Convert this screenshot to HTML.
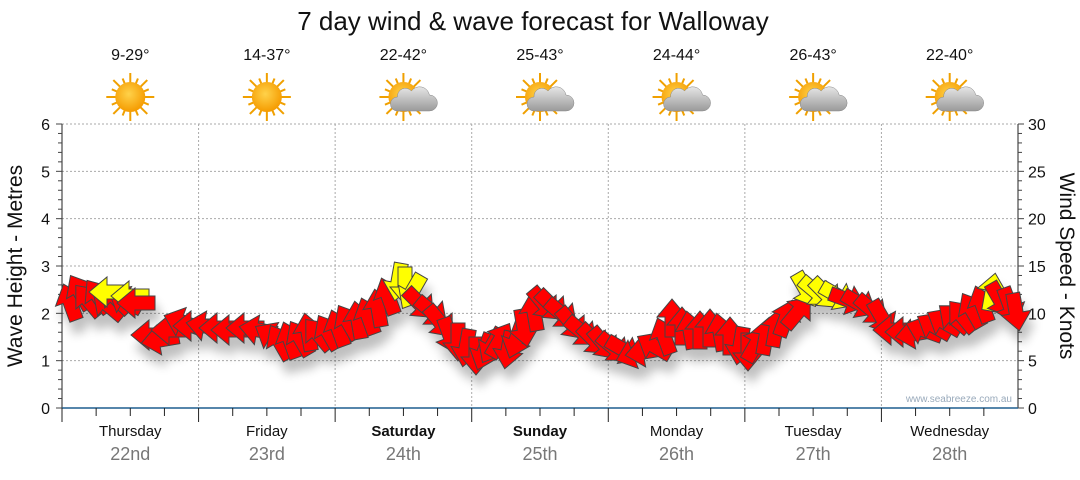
<!DOCTYPE html>
<html><head><meta charset="utf-8"><style>
body{margin:0;background:#fff;width:1080px;height:475px;overflow:hidden;font-family:"Liberation Sans",sans-serif}
</style></head><body>
<svg id="s" width="1080" height="475" xmlns="http://www.w3.org/2000/svg" font-family="Liberation Sans, sans-serif">
<defs>
<filter id="sh" x="-20%" y="-20%" width="140%" height="160%"><feGaussianBlur in="SourceAlpha" stdDeviation="5"/><feOffset dx="4" dy="12"/><feComponentTransfer><feFuncA type="linear" slope="0.25"/></feComponentTransfer><feMerge><feMergeNode/><feMergeNode in="SourceGraphic"/></feMerge></filter>
<radialGradient id="sun" cx="45%" cy="40%" r="60%"><stop offset="0" stop-color="#ffd24a"/><stop offset="1" stop-color="#f59b00"/></radialGradient>
<linearGradient id="cl" x1="0" y1="0" x2="0" y2="1"><stop offset="0" stop-color="#e6e6e6"/><stop offset="1" stop-color="#9a9a9a"/></linearGradient>
</defs>
<text x="533" y="30" font-size="26" text-anchor="middle" fill="#111">7 day wind &amp; wave forecast for Walloway</text>
<g id="grid"></g>
<g id="arrows" filter="url(#sh)"></g>
<text x="1012" y="402" font-size="10" fill="#9ab" text-anchor="end">www.seabreeze.com.au</text>
<text transform="translate(22,266) rotate(-90)" font-size="21" text-anchor="middle" fill="#111">Wave Height - Metres</text>
<text transform="translate(1060,266) rotate(90)" font-size="21" text-anchor="middle" fill="#111">Wind Speed - Knots</text>
</svg>
<script>
var s=document.getElementById('s'),g=document.getElementById('grid'),A=document.getElementById('arrows');
var NS='http://www.w3.org/2000/svg';
function el(t,a,p,txt){var e=document.createElementNS(NS,t);for(var k in a)e.setAttribute(k,a[k]);if(txt!=null)e.textContent=txt;(p||g).appendChild(e);return e;}
var L=62,R=1018,T=124,B=408,dw=136.57;
for(var i=1;i<=6;i++){var y=B-i*47.33;el('line',{x1:L,x2:R,y1:y,y2:y,stroke:'#aaa','stroke-dasharray':'2,2'});}
for(var d=1;d<7;d++){var x=L+d*dw;el('line',{x1:x,x2:x,y1:T,y2:B,stroke:'#aaa','stroke-dasharray':'2,2'});}
el('line',{x1:L,x2:L,y1:T,y2:B,stroke:'#222'});el('line',{x1:R,x2:R,y1:T,y2:B,stroke:'#222'});
el('line',{x1:L,x2:R,y1:B,y2:B,stroke:'#1f5f8f','stroke-width':1.5});
for(var i=0;i<=30;i++){var y=B-i*9.467;var big=i%5==0;el('line',{x1:L-(big?6:4),x2:L,y1:y,y2:y,stroke:'#444'});el('line',{x1:R,x2:R+(big?6:4),y1:y,y2:y,stroke:'#444'});
 if(big){el('text',{x:L-12,y:y+6,'font-size':16,'text-anchor':'end',fill:'#111'},null,i/5);el('text',{x:R+10,y:y+6,'font-size':16,fill:'#111'},null,i);}}
var days=['Thursday','Friday','Saturday','Sunday','Monday','Tuesday','Wednesday'],dates=['22nd','23rd','24th','25th','26th','27th','28th'],temps=['9-29°','14-37°','22-42°','25-43°','24-44°','26-43°','22-40°'];
for(var d=0;d<7;d++){var x0=L+d*dw,cx=x0+dw/2;
 for(var k=0;k<4;k++){var x=x0+k*dw/4;el('line',{x1:x,x2:x,y1:B,y2:B+(k==0?14:8),stroke:'#222'});}
 var bold=(d==2||d==3)?'bold':'normal';
 el('text',{x:cx,y:436,'font-size':15,'text-anchor':'middle','font-weight':bold,fill:'#111'},null,days[d]);
 el('text',{x:cx,y:460,'font-size':18,'text-anchor':'middle',fill:'#777'},null,dates[d]);
 el('text',{x:cx,y:60,'font-size':16,'text-anchor':'middle',fill:'#111'},null,temps[d]);
 var sx=cx,sy=97;
 for(var r=0;r<16;r++){var a=r*Math.PI/8;el('line',{x1:sx+Math.cos(a)*14,y1:sy+Math.sin(a)*14,x2:sx+Math.cos(a)*(r%2?20:24),y2:sy+Math.sin(a)*(r%2?20:24),stroke:'#f0a000','stroke-width':2});}
 el('circle',{cx:sx,cy:sy,r:15,fill:'url(#sun)'});
 if(d>=2){el('path',{d:'M'+(sx-6)+' '+(sy+14)+'h32a8 8 0 0 0 0-16a10 10 0 0 0-18-4a8 8 0 0 0-14 6a7 7 0 0 0 0 14z',fill:'url(#cl)',stroke:'#888','stroke-width':0.5});}
}
var P=[[70,302,-110],[80,292,-120],[88,300,-130],[98,296,-125],[108,305,-140],[116,298,-135],[125,300,-150],[108,292,180,1],[130,296,180,1],[136,303,180],[150,335,180],[160,340,170],[170,330,180],[182,322,-160],[192,326,180],[205,326,-170],[218,328,180],[230,330,180],[245,328,180],[258,330,-170],[272,336,-150],[280,342,-120],[290,340,-110],[300,338,-120],[308,332,-100],[318,334,-130],[328,332,-120],[338,328,-110],[348,322,-120],[358,320,-100],[368,316,-110],[378,308,-100],[388,296,-110],[398,282,100,1],[405,286,90,1],[412,292,120,1],[420,304,45],[432,312,40],[440,322,50],[450,336,70],[458,342,90],[466,348,100],[476,356,90],[484,352,110],[492,346,120],[500,340,-60],[508,350,100],[516,340,110],[524,328,80],[534,312,-100],[544,304,50],[552,306,45],[562,314,40],[572,324,50],[582,332,40],[594,340,45],[604,344,50],[614,348,40],[624,350,30],[634,354,160],[644,352,170],[654,346,-150],[664,336,-110],[672,318,-90],[682,326,-90],[690,330,-100],[700,330,-90],[710,328,-90],[720,332,-100],[730,336,-90],[740,346,100],[748,352,90],[756,344,-60],[766,336,-80],[776,328,-80],[786,318,-70],[798,312,-50],[806,290,60,1],[816,292,40,1],[826,294,45,1],[838,296,30,1],[848,300,20],[860,304,30],[872,310,40],[882,318,60],[892,330,180],[904,332,180],[914,334,170],[924,330,-160],[934,326,-150],[944,322,-150],[954,318,-140],[962,316,-130],[972,310,-120],[982,304,-110],[992,292,-80,1],[1000,300,60],[1010,306,70],[1016,312,80]];
P.forEach(function(p){var c=p[3]?'#ffff00':'#ff0000';
 el('polygon',{points:'-19,-7 1,-7 1,-15 19,0 1,15 1,7 -19,7',fill:c,stroke:'#444','stroke-width':1,transform:'translate('+p[0]+','+p[1]+') rotate('+p[2]+')'},A);});
</script>
</body></html>
